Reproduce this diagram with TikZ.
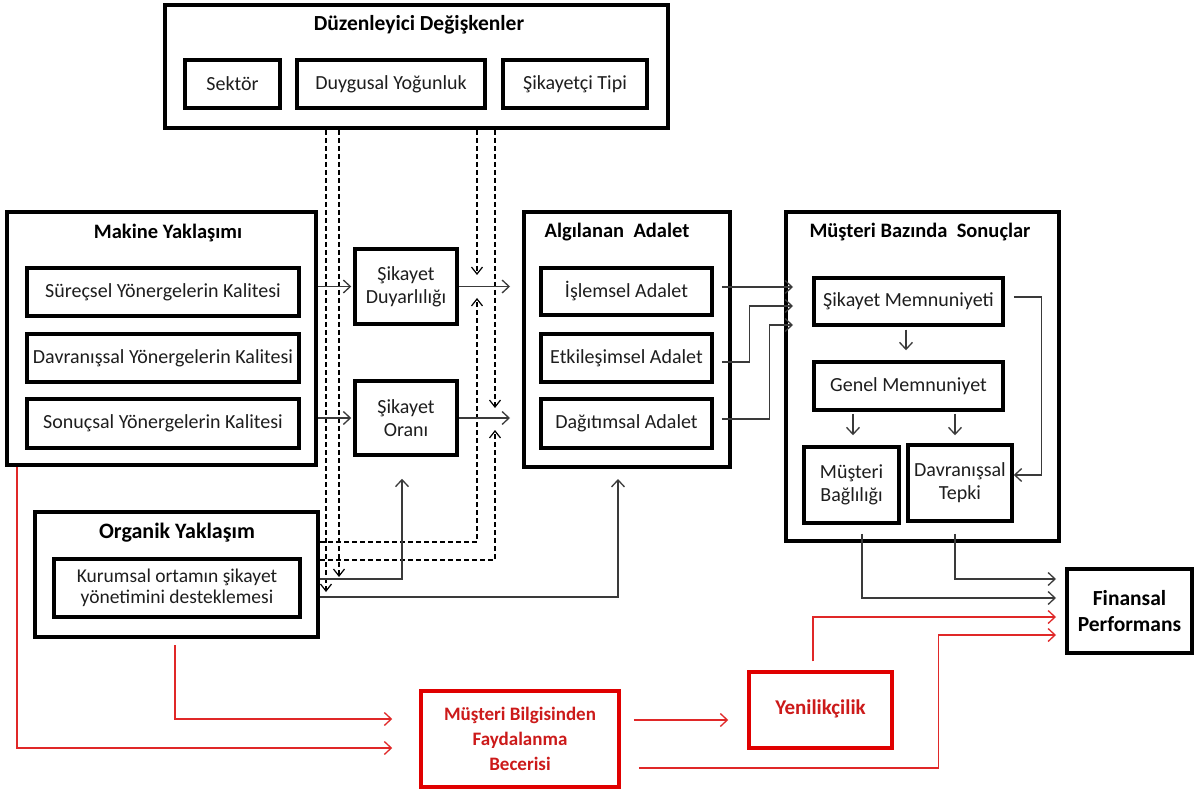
\documentclass[tikz,border=0pt]{standalone}
\usepackage{fontspec}
\setmainfont{Carlito}
\usetikzlibrary{arrows.meta,calc}
\definecolor{lc}{HTML}{3A3A3A}
\definecolor{rc}{HTML}{E02828}
\definecolor{rb}{HTML}{E00000}
\definecolor{rt}{HTML}{CC1A1A}
\definecolor{tx}{HTML}{1E1E1E}
\begin{document}
\begin{tikzpicture}[x=1pt,y=-1pt,
  obox/.style={draw=black, line width=4pt, inner sep=0pt},
  ibox/.style={draw=black, line width=3.5pt, inner sep=0pt, align=center, text=tx,
    font=\fontsize{20}{23}\selectfont},
  ttl/.style={font=\fontsize{20.5}{24}\bfseries\selectfont, text=black},
  rbox/.style={draw=rb, line width=3.5pt, inner sep=0pt, align=center, text=rt,
    font=\fontsize{19}{25}\bfseries\selectfont},
  arr/.style={draw=lc, line width=1.3pt, -{Straight Barb[length=7pt,width=13pt]}},
  rarr/.style={draw=rc, line width=1.3pt, -{Straight Barb[length=7pt,width=13pt]}},
  darr/.style={draw=black, line width=1.2pt, dash pattern=on 5pt off 3pt, -{Straight Barb[length=7pt,width=11pt]}}
]
\useasboundingbox[fill=white] (0,0) rectangle (1204,791);

% top moderator box
\node[obox, minimum width=503pt, minimum height=123pt] (top) at (416.5,66.5) {};
\node[ttl, font=\fontsize{21.5}{24}\bfseries\selectfont] (toptl) at (419,25) {Düzenleyici Değişkenler};
\node[ibox, minimum width=95pt, minimum height=48pt] (sek) at (232.5,84) {Sektör};
\node[ibox, minimum width=188pt, minimum height=48pt] (duy) at (391,84) {Duygusal Yoğunluk};
\node[ibox, minimum width=144pt, minimum height=48pt] (sti) at (575,84) {Şikayetçi Tipi};

% Makine
\node[obox, minimum width=309pt, minimum height=253pt] (mak) at (161.5,338.5) {};
\node[ttl] (maktl) at (168,233) {Makine Yaklaşımı};
\node[ibox, minimum width=272pt, minimum height=48pt] (m1) at (163,292) {Süreçsel Yönergelerin Kalitesi};
\node[ibox, minimum width=272pt, minimum height=48pt] (m2) at (163,358) {Davranışsal Yönergelerin Kalitesi};
\node[ibox, minimum width=272pt, minimum height=49pt] (m3) at (163,423.5) {Sonuçsal Yönergelerin Kalitesi};

% Sikayet boxes
\node[ibox, minimum width=102pt, minimum height=75pt] (sd) at (406,286.5) {Şikayet\\Duyarlılığı};
\node[ibox, minimum width=102pt, minimum height=74pt] (so) at (406,418) {Şikayet\\Oranı};

% Algilanan Adalet
\node[obox, minimum width=206pt, minimum height=255pt] (aa) at (627,339.5) {};
\node[ttl] (aatl) at (617,232) {Algılanan\ \ Adalet};
\node[ibox, minimum width=171pt, minimum height=47pt] (a1) at (626.5,291.5) {İşlemsel Adalet};
\node[ibox, minimum width=171pt, minimum height=48pt] (a2) at (626.5,358) {Etkileşimsel Adalet};
\node[ibox, minimum width=171pt, minimum height=49pt] (a3) at (626.5,423.5) {Dağıtımsal Adalet};

% Musteri Bazinda Sonuclar
\node[obox, minimum width=273pt, minimum height=329pt] (mb) at (922.5,376.5) {};
\node[ttl] (mbtl) at (920,232) {Müşteri Bazında\ \ Sonuçlar};
\node[ibox, minimum width=189pt, minimum height=47pt] (sm) at (908.5,301.5) {Şikayet Memnuniyeti};
\node[ibox, minimum width=189pt, minimum height=48pt] (gm) at (908.5,386) {Genel Memnuniyet};
\node[ibox, minimum width=95pt, minimum height=76pt] (mbag) at (851.5,485) {Müşteri\\Bağlılığı};
\node[ibox, minimum width=104pt, minimum height=76pt] (dt) at (960,483) {Davranışsal\\Tepki};

% Finansal
\node[obox, minimum width=125pt, minimum height=84pt, align=center,
  font=\fontsize{21.5}{26}\bfseries\selectfont] (fin) at (1129.5,611) {Finansal\\Performans};

% Organik
\node[obox, minimum width=283pt, minimum height=125pt] (org) at (176.5,574.5) {};
\node[ttl, font=\fontsize{22}{24}\bfseries\selectfont] (orgtl) at (177,533) {Organik Yaklaşım};
\node[ibox, minimum width=246pt, minimum height=58pt, font=\fontsize{19.5}{21}\selectfont] (kur) at (177,588) {Kurumsal ortamın şikayet\\yönetimini desteklemesi};

% red boxes
\node[rbox, minimum width=198pt, minimum height=96pt] (mbil) at (520,739) {Müşteri Bilgisinden\\Faydalanma\\Becerisi};
\node[rbox, minimum width=143pt, minimum height=76pt, font=\fontsize{21}{25}\bfseries\selectfont] (yen) at (820.5,710) {\raisebox{5pt}{Yenilikçilik}};

% dashed moderator arrows
\draw[darr] (top.south -| 326,0) -- (326,592);
\draw[darr] (top.south -| 339,0) -- (339,577);
\draw[darr] (top.south -| 477,0) -- (477,275);
\draw[darr] (top.south -| 495,0) -- (495,408);
\draw[darr] (org.east |- 0,542) -| (477,298);
\draw[darr] (org.east |- 0,560) -| (495,430);

% Makine -> Sikayet
\draw[arr, shorten >=2pt] (mak.east |- sd.west) -- (sd.west);
\draw[arr, shorten >=2pt] (mak.east |- so.west) -- (so.west);
% Sikayet -> AA
\draw[arr, shorten >=12pt] (sd.east) -- (aa.west |- sd.east);
\draw[arr, shorten >=12pt] (so.east) -- (aa.west |- so.east);
% Organik -> Sikayet Orani, AA
\draw[arr, shorten >=22pt] (org.east |- 0,579) -| ($(so.south)+(-4,0)$);
\draw[arr, shorten >=10pt] (org.east |- 0,597) -| ($(aa.south)+(-9,0)$);

% AA -> MB
\draw[arr, shorten >=-9pt] ($(a1.east)+(8,-4.5)$) -- (mb.west |- 0,287);
\draw[arr, shorten >=-9pt] ($(a2.east)+(8,4)$) -- ++(28,0) |- (mb.west |- 0,306);
\draw[arr, shorten >=-9pt] ($(a3.east)+(8,-4.5)$) -- ++(48,0) |- (mb.west |- 0,325);

% inside MB
\draw[arr, shorten <=3pt, shorten >=10pt] ($(sm.south)+(-2.5,0)$) -- ($(gm.north)+(-2.5,0)$);
\draw[arr, shorten <=2pt, shorten >=10pt] ($(gm.south -| mbag.north)+(1.5,0)$) -- ($(mbag.north)+(1.5,0)$);
\draw[arr, shorten <=2pt, shorten >=8pt] ($(gm.south -| dt.north)+(-5,0)$) -- ($(dt.north)+(-5,0)$);
\draw[arr] ($(sm.east)+(9,-4.5)$) -- ++(28,0) |- ($(dt.east)+(0,-8)$);

% MB -> Finansal
\draw[arr, shorten >=9pt] ($(mbag.south)+(10.5,9)$) |- ($(fin.west)+(0,-13)$);
\draw[arr, shorten >=9pt] ($(dt.south)+(-5,11)$) |- ($(fin.west)+(0,-32)$);

% red connectors
\draw[rarr, shorten >=27pt] (mak.south -| 17,0) |- ($(mbil.west)+(0,9)$);
\draw[rarr, shorten >=27pt] ($(org.south)+(-1.5,6)$) |- ($(mbil.west)+(0,-20)$);
\draw[rarr, shorten >=19pt] ($(mbil.east)+(13,-19)$) -- ($(yen.west)+(0,10)$);
\draw[rarr, shorten >=9pt] ($(yen.north)+(-7.5,-9)$) |- ($(fin.west)+(0,6)$);
\draw[rarr, shorten >=9pt] ($(mbil.east)+(18,29)$) -- ($(mbil.east)+(318,29)$) |- ($(fin.west)+(0,24)$);
\end{tikzpicture}
\end{document}
